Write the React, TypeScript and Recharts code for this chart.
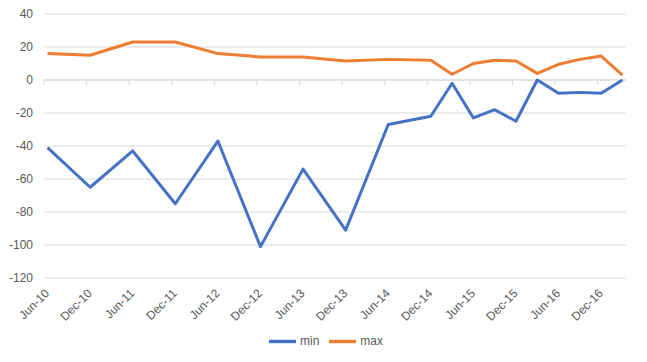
import { LineChart, Line, XAxis, YAxis, CartesianGrid, Legend, ReferenceLine } from "recharts";

// observation dates (semi-annual, then quarterly from Dec-14)
const periods = [
  "Jun-10", "Dec-10", "Jun-11", "Dec-11", "Jun-12", "Dec-12", "Jun-13", "Dec-13",
  "Jun-14", "Dec-14", "Mar-15", "Jun-15", "Sep-15", "Dec-15", "Mar-16", "Jun-16",
  "Sep-16", "Dec-16", "Mar-17",
];
const minValues = [
  -41, -65, -43, -75, -37, -101, -54, -91, -27, -22, -2, -23, -18, -25, 0, -8, -7.5, -8, 0,
];
const maxValues = [
  16, 15, 23, 23, 16, 14, 14, 11.5, 12.5, 12, 3.5, 10, 12, 11.5, 4, 9.5, 12.5, 14.5, 3,
];
const tickLabels = [
  "Jun-10", "Dec-10", "Jun-11", "Dec-11", "Jun-12", "Dec-12", "Jun-13",
  "Dec-13", "Jun-14", "Dec-14", "Jun-15", "Dec-15", "Jun-16", "Dec-16",
];
const yTicks = [-120, -100, -80, -60, -40, -20, 0, 20, 40];
const seriesOrder = ["min", "max"];

const MONTHS = ["Jan", "Feb", "Mar", "Apr", "May", "Jun", "Jul", "Aug", "Sep", "Oct", "Nov", "Dec"];
const monthNo = (label: string) => {
  const [m, y] = label.split("-");
  return (2000 + Number(y)) * 12 + MONTHS.indexOf(m);
};
const START = monthNo(tickLabels[0]);

// date axis with month base unit: each point sits in the middle of its month
const data = periods.map((p, i) => ({
  t: monthNo(p) - START + 0.5,
  min: minValues[i],
  max: maxValues[i],
}));
const xTicks = tickLabels.map((l) => monthNo(l) - START);
const xEnd = monthNo(periods[periods.length - 1]) - START + 1;

const GRID = "#D9D9D9";
const TEXT = "#595959";

export default function App() {
  return (
    <div style={{ position: "absolute", left: 0, top: 0 }}>
      <LineChart
        width={647}
        height={362}
        data={data}
        margin={{ top: 14, right: 21, left: 0, bottom: 0 }}
        style={{ fontFamily: "'Liberation Sans', Arial, sans-serif" }}
      >
        <CartesianGrid vertical={false} stroke={GRID} strokeWidth={1} />
        <XAxis
          dataKey="t"
          type="number"
          domain={[0, xEnd]}
          ticks={xTicks}
          interval={0}
          tickFormatter={(v: number) => tickLabels[xTicks.indexOf(v)] ?? ""}
          axisLine={false}
          tickLine={false}
          tickSize={0}
          tickMargin={10}
          height={50}
          tick={{ fill: TEXT, fontSize: 12, angle: -45, textAnchor: "end" }}
        />
        <YAxis
          domain={[-120, 40]}
          ticks={yTicks}
          interval={0}
          axisLine={false}
          tickLine={false}
          tickSize={0}
          tickMargin={11}
          width={44}
          tick={{ fill: TEXT, fontSize: 12 }}
        />
        <ReferenceLine y={0} stroke={GRID} strokeWidth={1} />
        {xTicks.map((t) => (
          <ReferenceLine
            key={`tk-${t}`}
            segment={[{ x: t, y: 0 }, { x: t, y: -3 }]}
            stroke={GRID}
            strokeWidth={1}
          />
        ))}
        <Legend
          verticalAlign="bottom"
          iconType="plainline"
          iconSize={27}
          itemSorter={(item: any) => seriesOrder.indexOf(item.value)}
          wrapperStyle={{ fontSize: 12, color: TEXT, height: 34, left: 18 }}
          formatter={(value: string) => <span style={{ color: TEXT }}>{value}</span>}
        />
        <Line
          dataKey="min"
          name="min"
          stroke="#4472C4"
          strokeWidth={3}
          dot={false}
          strokeLinejoin="round"
          isAnimationActive={false}
        />
        <Line
          dataKey="max"
          name="max"
          stroke="#ED7D31"
          strokeWidth={3}
          dot={false}
          strokeLinejoin="round"
          isAnimationActive={false}
        />
      </LineChart>
    </div>
  );
}
